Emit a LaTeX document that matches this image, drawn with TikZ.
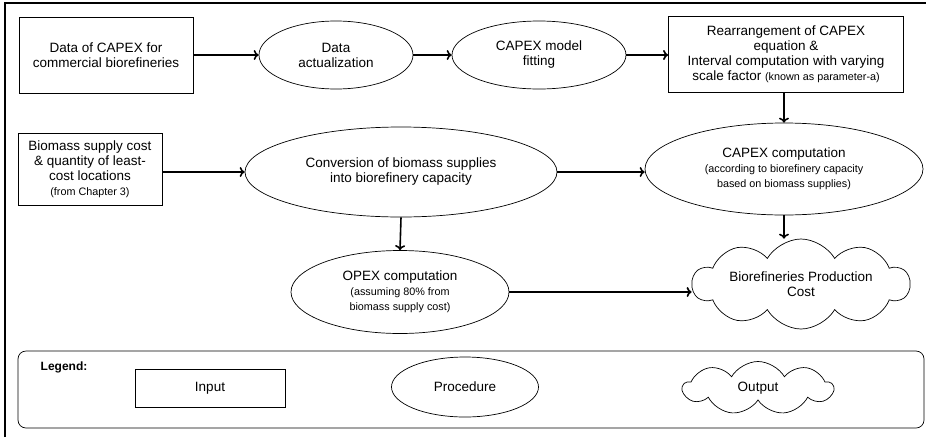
\documentclass[tikz,border=0pt]{standalone}
\usepackage{fontspec}
\setmainfont{Liberation Sans}
\usetikzlibrary{shapes.geometric,shapes.symbols,arrows.meta}
\newcommand{\mainsz}{\fontsize{13.5}{15}\selectfont}
\newcommand{\smallsz}{\fontsize{10.8}{14}\selectfont}

\begin{document}
\begin{tikzpicture}[x=1pt, y=-1pt, >={To[length=5pt,width=10pt]},
    inbox/.style={draw, line width=0.8pt, align=center, inner xsep=2pt, font=\mainsz},
    proc/.style={ellipse, draw, line width=0.7pt, align=center, inner sep=0pt, font=\mainsz},
    outcloud/.style={cloud, cloud puffs=10, cloud puff arc=120, cloud ignores aspect, draw, line width=0.7pt, align=center, inner sep=0pt, font=\mainsz},
    arr/.style={->, line width=1.6pt}]
      \useasboundingbox (0,0) rectangle (926,437) ;
      \draw[line width=2pt] (5,437) -- (5,3) -- (926,3) ;
      % inputs
      \node[inbox, minimum width=174, minimum height=76] (capexdata) at (106,55) {Data of CAPEX for\\commercial biorefineries} ;
      \node[inbox, minimum width=144, minimum height=72] (biomass) at (90,169) {Biomass supply cost\\\& quantity of least-\\cost locations\\{\smallsz(from Chapter 3)}} ;
      \node[inbox, minimum width=235, minimum height=76] (rearr) at (786,54) {Rearrangement of CAPEX\\equation \&\\Interval computation with varying\\scale factor {\smallsz(known as parameter-a)}} ;
      % procedures
      \node[proc, minimum width=154, minimum height=68] (actual) at (336,55) {Data\\actualization} ;
      \node[proc, minimum width=174, minimum height=68] (fitting) at (539,55) {CAPEX model\\fitting} ;
      \node[proc, minimum width=312, minimum height=90] (conv) at (401,172) {Conversion of biomass supplies\\into biorefinery capacity} ;
      \node[proc, minimum width=278, minimum height=92] (capexcomp) at (784,169) {CAPEX computation\\{\smallsz(according to biorefinery capacity}\\{\smallsz based on biomass supplies)}} ;
      \node[proc, minimum width=218, minimum height=83] (opex) at (400,292) {OPEX computation\\{\smallsz(assuming 80\% from}\\{\smallsz biomass supply cost)}} ;
      % output
      \node[outcloud, minimum width=217, minimum height=90] (cost) at (801,284) {Biorefineries Production\\Cost} ;
      % connectors
      \draw[arr] (capexdata.east) -- (actual.west) ;
      \draw[arr] (actual.east) -- (fitting.west) ;
      \draw[arr] (fitting.east) -- (rearr.west |- fitting.east) ;
      \draw[arr] (capexcomp.north |- rearr.south) -- (capexcomp.north) ;
      \draw[arr] (biomass.east |- conv.west) -- (conv.west) ;
      \draw[arr] (conv.east) -- (capexcomp.west |- conv.east) ;
      \draw[arr] (conv.south) -- (opex.north) ;
      \draw[arr] (opex.east) -- (opex.east -| cost.west) ;
      \draw[arr] (capexcomp.south) -- (capexcomp.south |- cost.north) ;
      % legend
      \node[draw, line width=0.7pt, rounded corners=8pt, minimum width=906, minimum height=77] (legendbox) at (471,389.5) {} ;
      \node[font=\fontsize{12}{14}\selectfont\bfseries] (legendtitle) at (64,367) {Legend:} ;
      \node[inbox, minimum width=150, minimum height=38] (leginput) at (210,388) {Input} ;
      \node[proc, minimum width=147, minimum height=60] (legproc) at (465,387) {Procedure} ;
      \node[outcloud, cloud puffs=9, minimum width=150, minimum height=53] (legoutput) at (758,388) {Output} ;
    \end{tikzpicture}
\end{document}
